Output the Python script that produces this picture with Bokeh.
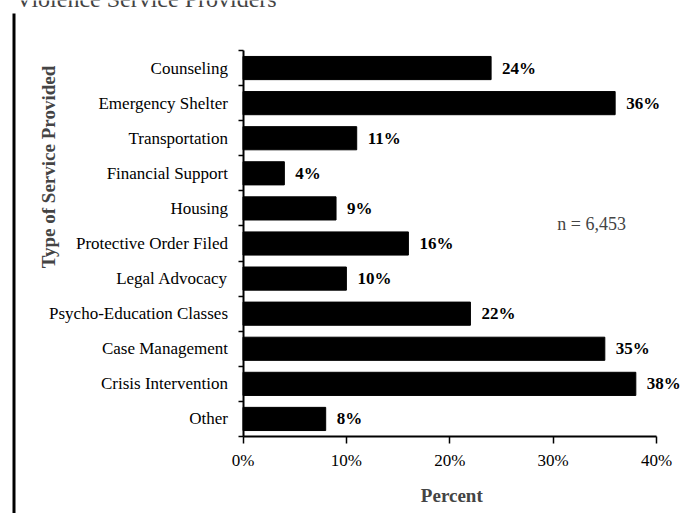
import math
from bokeh.plotting import figure
from bokeh.models import ColumnDataSource, Range1d, FixedTicker, Label
from bokeh.core.properties import value
from bokeh.embed import file_html
from bokeh.resources import INLINE

categories = ["Counseling", "Emergency Shelter", "Transportation", "Financial Support",
              "Housing", "Protective Order Filed", "Legal Advocacy",
              "Psycho-Education Classes", "Case Management", "Crisis Intervention", "Other"]
percents = [24, 36, 11, 4, 9, 16, 10, 22, 35, 38, 8]
x_ticks = [0, 10, 20, 30, 40]
title_text = "Violence Service Providers"
y_title = "Type of Service Provided"
x_title = "Percent"
note = "n = 6,453"

SERIF = "Liberation Serif"
W, H = 692, 513
n = len(categories)

# pixel geometry of the plotting area (frame covers the whole canvas)
X0_PX, X40_PX = 242.5, 656.0      # pixel x of 0% and 40%
YTOP_PX, YBOT_PX = 50.0, 436.0     # pixel y of top / bottom of category band
ppx = (X40_PX - X0_PX) / 40.0
ppy = (YBOT_PX - YTOP_PX) / n
x_start = -X0_PX / ppx
x_end = (W - X0_PX) / ppx
y_start = -(H - YBOT_PX) / ppy
y_end = n + YTOP_PX / ppy


def dx(px):
    return x_start + px / ppx


def dy(py):
    return y_end - py / ppy


ypos = [n - i - 0.5 for i in range(n)]
labels = [f"{v}%" for v in percents]
src = ColumnDataSource(dict(y=ypos, v=percents, lab=labels))

p = figure(width=W, height=H, output_backend="svg", toolbar_location=None,
           x_range=Range1d(x_start, x_end), y_range=Range1d(y_start, y_end),
           min_border=0)
p.outline_line_color = None
p.grid.grid_line_color = None

p.hbar(y="y", right="v", left=0, height=0.66, source=src,
       fill_color="black", line_color="black")
p.text(x="v", y="y", text="lab", source=src, x_offset=11,
       text_align="left", text_baseline="middle",
       text_font=value(SERIF), text_font_size="17px", text_font_style="bold",
       text_color="black")

# x axis
xa = p.xaxis[0]
xa.fixed_location = 0
xa.bounds = (0, 40)
xa.ticker = FixedTicker(ticks=x_ticks, minor_ticks=[])
xa.major_label_overrides = {t: f"{t}%" for t in x_ticks}
xa.major_tick_in = 0
xa.major_tick_out = 7
xa.major_label_standoff = 7
xa.major_label_text_font = SERIF
xa.major_label_text_font_size = "17px"
xa.major_label_text_color = "black"
xa.axis_line_color = "black"
xa.axis_line_width = 2
xa.major_tick_line_width = 1.5

# y axis
ya = p.yaxis[0]
ya.fixed_location = 0
ya.bounds = (0, n)
ya.ticker = FixedTicker(ticks=ypos, minor_ticks=list(range(n + 1)))
ya.major_label_overrides = {y: c for y, c in zip(ypos, categories)}
ya.major_tick_line_color = None
ya.minor_tick_in = 0
ya.minor_tick_out = 5
ya.minor_tick_line_width = 1.5
ya.axis_line_width = 2
ya.major_label_standoff = 9
ya.major_label_text_font = SERIF
ya.major_label_text_font_size = "17px"
ya.major_label_text_color = "black"

# annotations
p.add_layout(Label(x=30.4, y=ypos[4] - 0.45, text=note, text_font=SERIF,
                   text_font_size="18px", text_align="left", text_baseline="middle"))
p.add_layout(Label(x=20.2, y=dy(495), text=x_title, text_font=SERIF,
                   text_font_size="19px", text_font_style="bold",
                   text_align="center", text_baseline="middle"))
p.add_layout(Label(x=dx(48), y=dy(166.5), text=y_title, angle=math.pi / 2,
                   text_font=SERIF, text_font_size="19px", text_font_style="bold",
                   text_align="center", text_baseline="middle"))
p.add_layout(Label(x=dx(15), y=dy(-2), text=title_text, text_font=SERIF,
                   text_font_size="24px", text_align="left",
                   text_baseline="alphabetic"))
p.segment(x0=[dx(13.5)], y0=[dy(13)], x1=[dx(13.5)], y1=[dy(H + 5)],
          line_color="black", line_width=3)

open("out.html", "w").write(file_html(p, INLINE))
